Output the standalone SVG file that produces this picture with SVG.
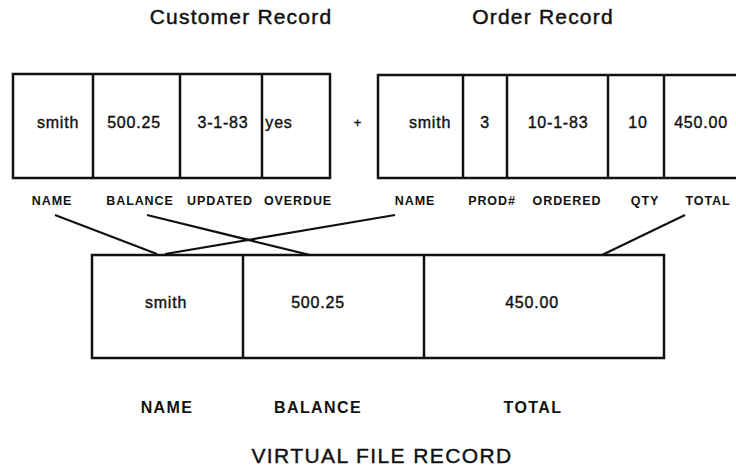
<svg xmlns="http://www.w3.org/2000/svg" width="736" height="468" viewBox="0 0 736 468">
<style>
text{font-family:"Liberation Sans",Arial,sans-serif;fill:#111;text-anchor:middle}
.title{font-size:21px;letter-spacing:1.2px;stroke:#111;stroke-width:0.45}
.cell{font-size:16px;letter-spacing:0.8px;stroke:#111;stroke-width:0.4}
.lab{font-size:12.5px;font-weight:bold;letter-spacing:0.9px}
.blab{font-size:16px;font-weight:bold;letter-spacing:1.4px}
.big{font-size:21px;letter-spacing:1.4px;stroke:#111;stroke-width:0.4}
.box{fill:#fff;stroke:#111;stroke-width:2.5}
.div{stroke:#111;stroke-width:2.5}
.conn{stroke:#111;stroke-width:2.2;fill:none}
</style>
<rect width="736" height="468" fill="#fff"/>
<text class="title" x="241" y="24">Customer Record</text>
<text class="title" x="543" y="24">Order Record</text>

<g id="customer-record">
<rect class="box" x="13" y="74" width="317" height="104"/>
<line class="div" x1="93" y1="74" x2="93" y2="178"/>
<line class="div" x1="180" y1="74" x2="180" y2="178"/>
<line class="div" x1="262" y1="74" x2="262" y2="178"/>
<text class="cell" x="58" y="128">smith</text>
<text class="cell" x="134" y="128">500.25</text>
<text class="cell" x="223" y="128">3-1-83</text>
<text class="cell" x="279" y="128">yes</text>
<text class="lab" x="52" y="204.5">NAME</text>
<text class="lab" x="140" y="204.5">BALANCE</text>
<text class="lab" x="220" y="204.5">UPDATED</text>
<text class="lab" x="298" y="204.5">OVERDUE</text>
</g>

<g id="plus"><text class="cell" x="358" y="127" style="font-size:13px">+</text></g>

<g id="order-record">
<rect class="box" x="378" y="75" width="380" height="103"/>
<line class="div" x1="463" y1="75" x2="463" y2="178"/>
<line class="div" x1="507" y1="75" x2="507" y2="178"/>
<line class="div" x1="608" y1="75" x2="608" y2="178"/>
<line class="div" x1="664" y1="75" x2="664" y2="178"/>
<text class="cell" x="430" y="128">smith</text>
<text class="cell" x="485" y="128">3</text>
<text class="cell" x="558" y="128">10-1-83</text>
<text class="cell" x="638" y="128">10</text>
<text class="cell" x="701" y="128">450.00</text>
<text class="lab" x="415" y="204.5">NAME</text>
<text class="lab" x="492" y="204.5">PROD#</text>
<text class="lab" x="567" y="204.5">ORDERED</text>
<text class="lab" x="645" y="204.5">QTY</text>
<text class="lab" x="708" y="204.5">TOTAL</text>
</g>

<g id="connectors">
<line class="conn" x1="55" y1="215" x2="157" y2="254"/>
<line class="conn" x1="147" y1="215" x2="310" y2="255"/>
<line class="conn" x1="395" y1="215" x2="165" y2="254"/>
<line class="conn" x1="685" y1="215" x2="602" y2="255"/>
</g>

<g id="virtual-record">
<rect class="box" x="92" y="255" width="572" height="103"/>
<line class="div" x1="243" y1="255" x2="243" y2="358"/>
<line class="div" x1="424" y1="255" x2="424" y2="358"/>
<text class="cell" x="166" y="308">smith</text>
<text class="cell" x="318" y="308">500.25</text>
<text class="cell" x="532" y="308">450.00</text>
<text class="blab" x="167" y="413">NAME</text>
<text class="blab" x="318" y="413">BALANCE</text>
<text class="blab" x="533" y="413">TOTAL</text>
<text class="big" x="382" y="463">VIRTUAL FILE RECORD</text>
</g>
</svg>
